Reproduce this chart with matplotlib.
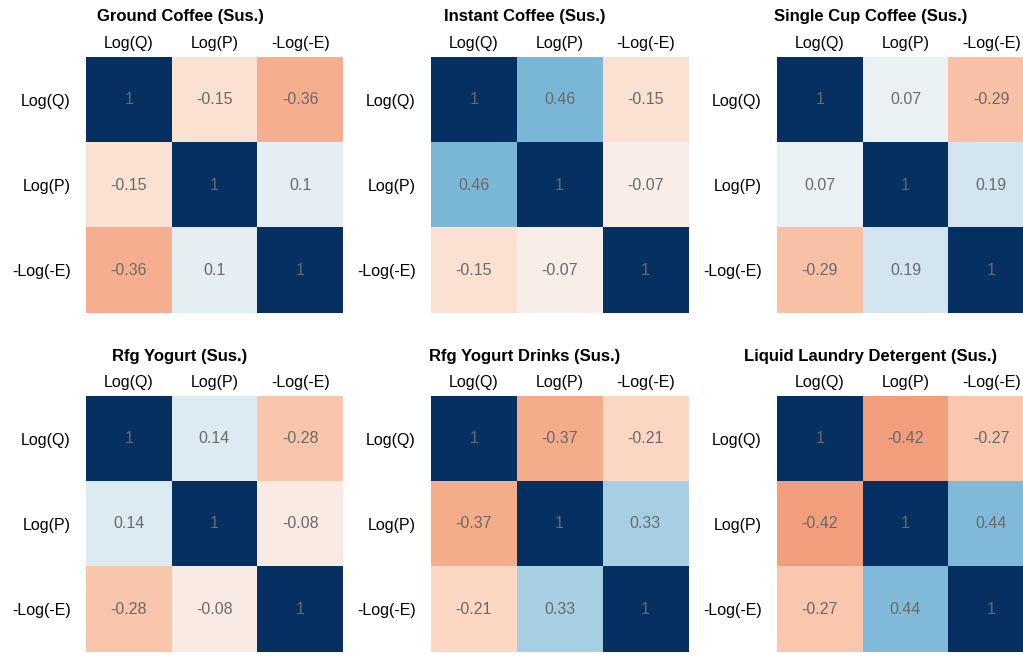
import numpy as np
import matplotlib
matplotlib.use("Agg")
import matplotlib.pyplot as plt

plt.rcParams["font.family"] = ["Liberation Sans", "DejaVu Sans"]

variables = ["Log(Q)", "Log(P)", "-Log(-E)"]

titles = [
    "Ground Coffee (Sus.)",
    "Instant Coffee (Sus.)",
    "Single Cup Coffee (Sus.)",
    "Rfg Yogurt (Sus.)",
    "Rfg Yogurt Drinks (Sus.)",
    "Liquid Laundry Detergent (Sus.)",
]

# Off-diagonal correlations: (Q,P), (Q,E), (P,E)
ground_coffee = [-0.15, -0.36, 0.10]
instant_coffee = [0.46, -0.15, -0.07]
single_cup_coffee = [0.07, -0.29, 0.19]
rfg_yogurt = [0.14, -0.28, -0.08]
rfg_yogurt_drinks = [-0.37, -0.21, 0.33]
liquid_laundry = [-0.42, -0.27, 0.44]

panels = [ground_coffee, instant_coffee, single_cup_coffee,
          rfg_yogurt, rfg_yogurt_drinks, liquid_laundry]


def corr_matrix(vals):
    qp, qe, pe = vals
    return np.array([[1.0, qp, qe],
                     [qp, 1.0, pe],
                     [qe, pe, 1.0]])


def fmt(v):
    return f"{round(v, 2):g}"


W, H = 1023, 662
fig = plt.figure(figsize=(W / 100, H / 100), dpi=100)
fig.patch.set_facecolor("white")

lefts = [86, 431, 777]
tops = [57, 396]
size_w, size_h = 257, 256
title_y = [16, 356]

for i, (vals, title) in enumerate(zip(panels, titles)):
    r, c = divmod(i, 3)
    x0 = lefts[c]
    y0 = tops[r]
    ax = fig.add_axes([x0 / W, (H - y0 - size_h) / H, size_w / W, size_h / H])
    m = corr_matrix(vals)
    ax.imshow(m, cmap="RdBu", vmin=-1, vmax=1, aspect="auto")
    for a in range(3):
        for b in range(3):
            ax.text(b, a, fmt(m[a, b]), ha="center", va="center",
                    fontsize=11.5, color="#6a6a6a")
    ax.set_xticks(range(3))
    ax.set_yticks(range(3))
    ax.set_xticklabels(variables, fontsize=11.5)
    ax.set_yticklabels(variables, fontsize=11.5)
    ax.xaxis.tick_top()
    ax.tick_params(axis="x", length=0, pad=4)
    ax.tick_params(axis="y", length=0, pad=11)
    for s in ax.spines.values():
        s.set_visible(False)
    fig.text((x0 + 94) / W, 1 - title_y[r] / H, title, ha="center",
             va="center", fontsize=12, fontweight="bold")

fig.savefig("out.png", dpi=100, facecolor="white")
